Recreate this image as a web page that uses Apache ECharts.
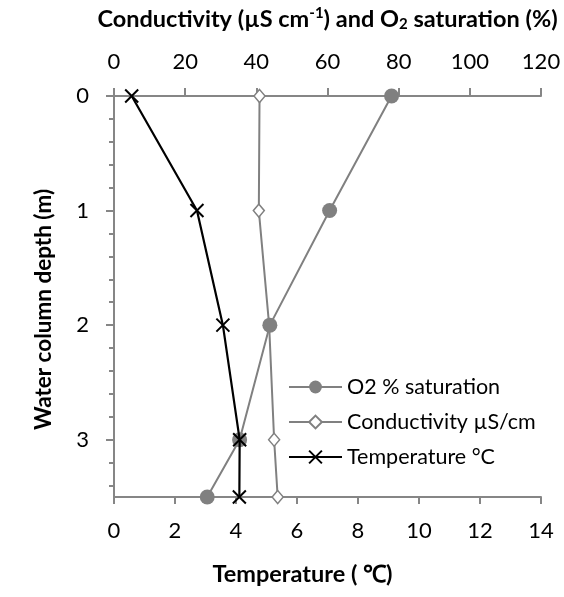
<!DOCTYPE html>
<html>
<head>
<meta charset="utf-8">
<script src="https://cdn.jsdelivr.net/npm/echarts@6/dist/echarts.min.js"></script>
<style>
html,body{margin:0;padding:0;background:#fff;}
#chart{width:564px;height:597px;}
</style>
</head>
<body>
<div id="chart"></div>
<script>
// Depth (m) of each measurement
const depths = [0, 1, 2, 3, 3.5];
// Series values
const o2Saturation = [78, 60.6, 43.8, 35.3, 26.2];      // %
const conductivity = [40.9, 40.7, 43.6, 45.0, 46.0];    // µS/cm
const temperature = [0.58, 2.72, 3.57, 4.12, 4.11];     // °C
// Tick values
const depthLabelTicks = [0, 1, 2, 3];
const depthMinorTicks = [0.2, 0.4, 0.6, 0.8, 1.2, 1.4, 1.6, 1.8, 2.2, 2.4, 2.6, 2.8, 3.2, 3.4];
const seriesNames = ['O2 % saturation', 'Conductivity µS/cm', 'Temperature °C'];

const FONT = 'Lato';
const AXIS_GRAY = '#868686';
const SERIES_GRAY = '#808080';

const pairs = (xs) => xs.map((v, i) => [v, depths[i]]);

const chart = echarts.init(document.getElementById('chart'), null, {renderer: 'canvas'});
chart.setOption({
  animation: false,
  backgroundColor: '#fff',
  textStyle: {fontFamily: FONT},
  grid: {left: 114, right: 23, top: 96, bottom: 100, containLabel: false},
  legend: {
    orient: 'vertical',
    left: 283,
    top: 371,
    padding: 5,
    itemWidth: 53,
    itemHeight: 16,
    itemGap: 13,
    textStyle: {fontFamily: FONT, fontSize: 21.5, color: '#000', lineHeight: 20},
    data: seriesNames
  },
  xAxis: [
    {
      type: 'value', position: 'bottom', min: 0, max: 14, interval: 2,
      name: 'Temperature ( \u2103)', nameLocation: 'middle', nameGap: 65,
      nameTextStyle: {fontFamily: FONT, fontWeight: 'bold', fontSize: 23.5, color: '#000', padding: [0, 50, 0, 0]},
      axisLine: {show: true, onZero: false, lineStyle: {color: AXIS_GRAY, width: 2}},
      axisTick: {show: true, inside: false, length: 7, lineStyle: {color: AXIS_GRAY, width: 2}},
      axisLabel: {fontFamily: FONT, fontSize: 22, color: '#000', margin: 23},
      splitLine: {show: false}
    },
    {
      type: 'value', position: 'top', min: 0, max: 120, interval: 20,
      name: 'Conductivity (µS cm{sup|-1}) and O{sub|2} saturation (%)',
      nameLocation: 'middle', nameGap: 64,
      nameTextStyle: {
        fontFamily: FONT, fontWeight: 'bold', fontSize: 23.5, color: '#000',
        rich: {
          sup: {fontFamily: FONT, fontWeight: 'bold', fontSize: 15, color: '#000', padding: [0, 0, 11, 0]},
          sub: {fontFamily: FONT, fontWeight: 'bold', fontSize: 15, color: '#000', padding: [11, 0, 0, 0]}
        }
      },
      axisLine: {show: true, onZero: false, lineStyle: {color: AXIS_GRAY, width: 2}},
      axisTick: {show: true, inside: false, length: 8, lineStyle: {color: AXIS_GRAY, width: 2}},
      axisLabel: {fontFamily: FONT, fontSize: 22, color: '#000', margin: 23},
      splitLine: {show: false}
    }
  ],
  yAxis: [
    {
      type: 'value', inverse: true, min: 0, max: 3.5, interval: 1, position: 'left',
      name: 'Water column depth (m)', nameLocation: 'middle', nameGap: 59, nameRotate: 90,
      nameTextStyle: {fontFamily: FONT, fontWeight: 'bold', fontSize: 22.5, color: '#000', padding: [0, 26, 0, 0]},
      axisLine: {show: true, onZero: false, lineStyle: {color: AXIS_GRAY, width: 2}},
      axisTick: {show: true, inside: false, length: 8, customValues: depthLabelTicks, lineStyle: {color: AXIS_GRAY, width: 2}},
      axisLabel: {fontFamily: FONT, fontSize: 22, color: '#000', margin: 25, customValues: depthLabelTicks},
      splitLine: {show: false}
    },
    {
      type: 'value', inverse: true, min: 0, max: 3.5, position: 'left',
      axisLine: {show: false},
      axisTick: {show: true, inside: false, length: 5, customValues: depthMinorTicks, lineStyle: {color: AXIS_GRAY, width: 2}},
      axisLabel: {show: false},
      splitLine: {show: false}
    }
  ],
  series: [
    {
      name: seriesNames[0], type: 'line', xAxisIndex: 1, yAxisIndex: 0,
      data: pairs(o2Saturation),
      symbol: 'circle', symbolSize: 15,
      lineStyle: {color: SERIES_GRAY, width: 2},
      itemStyle: {color: SERIES_GRAY},
      z: 3
    },
    {
      name: seriesNames[1], type: 'line', xAxisIndex: 1, yAxisIndex: 0,
      data: pairs(conductivity),
      symbol: 'diamond', symbolSize: [11, 13],
      lineStyle: {color: SERIES_GRAY, width: 2},
      itemStyle: {color: '#fff', borderColor: SERIES_GRAY, borderWidth: 1.5},
      z: 2
    },
    {
      name: seriesNames[2], type: 'line', xAxisIndex: 0, yAxisIndex: 0,
      data: pairs(temperature),
      symbol: 'path://M0,0L10,10M10,0L0,10', symbolSize: 13,
      lineStyle: {color: '#000', width: 2.2},
      itemStyle: {color: '#000', borderColor: '#000', borderWidth: 2},
      z: 4
    }
  ]
});
</script>
</body>
</html>
